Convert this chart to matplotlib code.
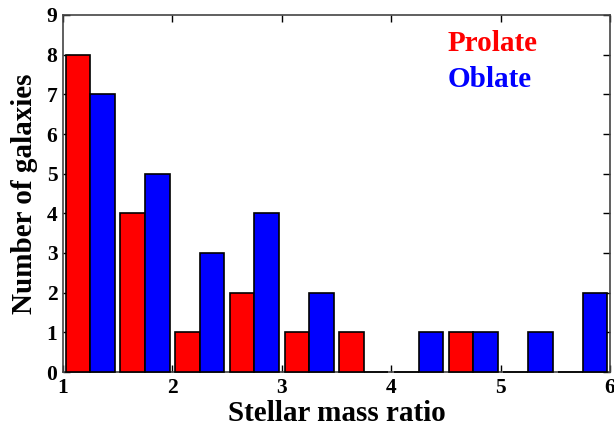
import matplotlib
matplotlib.use("Agg")
import matplotlib.pyplot as plt
import numpy as np

bin_edges = [1.0, 1.5, 2.0, 2.5, 3.0, 3.5, 4.0, 4.5, 5.0, 5.5, 6.0]
prolate_counts = [8, 4, 1, 2, 1, 1, 0, 1, 0, 0]
oblate_counts = [7, 5, 3, 4, 2, 0, 1, 1, 1, 2]
xticks = [1, 2, 3, 4, 5, 6]
yticks = [0, 1, 2, 3, 4, 5, 6, 7, 8, 9]

plt.rcParams['font.family'] = ['Liberation Serif', 'DejaVu Serif']
plt.rcParams['font.weight'] = 'bold'

fig = plt.figure(figsize=(6.14, 4.33), dpi=100)
ax = fig.add_axes([63/614, 1-372/433, (610-63)/614, (372-15)/433])

edges = np.array(bin_edges)
bw = edges[1] - edges[0]
rw = 0.9
w = rw * bw / 2
left0 = edges[:-1] + (1 - rw) / 2 * bw
ax.bar(left0, prolate_counts, width=w, align='edge', color='#ff0000',
       edgecolor='black', linewidth=1.2, zorder=3, clip_on=False)
ax.bar(left0 + w, oblate_counts, width=w, align='edge', color='#0000ff',
       edgecolor='black', linewidth=1.2, zorder=3, clip_on=False)

ax.set_xlim(1, 6)
ax.set_ylim(0, 9)
ax.set_xticks(xticks)
ax.set_yticks(yticks)
ax.tick_params(direction='in', top=True, right=True, length=5, width=1,
               labelsize=15.5, pad=4, colors='black')
for lab in ax.get_xticklabels() + ax.get_yticklabels():
    lab.set_fontweight('bold')
for s in ax.spines.values():
    s.set_linewidth(1.2)
    s.set_color('#444444')

ax.set_xlabel('Stellar mass ratio', fontsize=21, fontweight='bold', labelpad=2)
ax.set_ylabel('Number of galaxies', fontsize=21, fontweight='bold', labelpad=6)

ax.text(0.703, 0.92, 'Prolate', transform=ax.transAxes, color='#ff0000',
        fontsize=21, fontweight='bold', va='center', ha='left')
ax.text(0.703, 0.82, 'Oblate', transform=ax.transAxes, color='#0000ff',
        fontsize=21, fontweight='bold', va='center', ha='left')

fig.savefig('out.png', dpi=100)
